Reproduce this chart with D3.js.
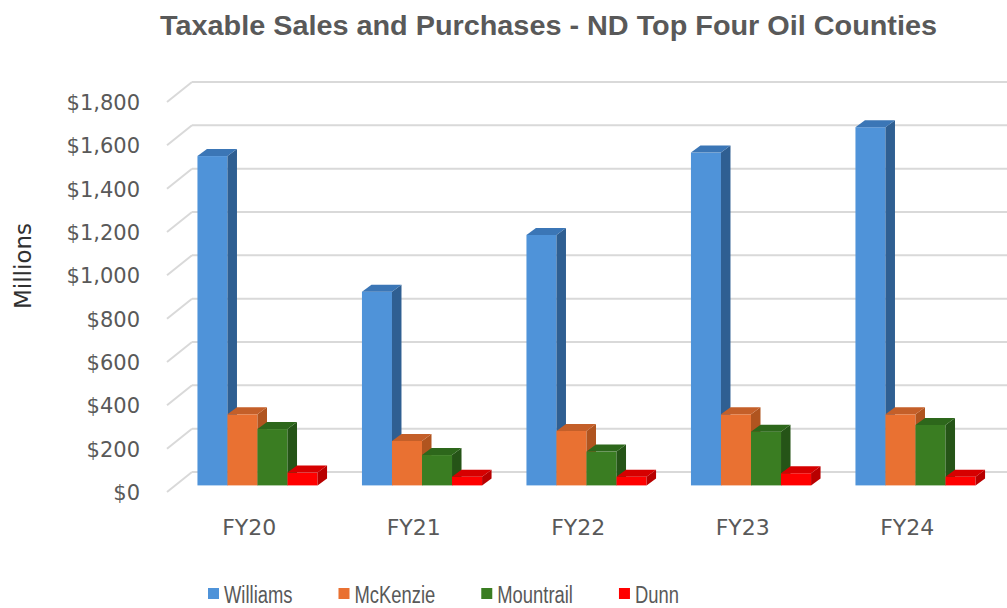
<!DOCTYPE html>
<html>
<head>
<meta charset="utf-8">
<script src="https://cdn.jsdelivr.net/npm/d3@7"></script>
<style>
  html, body { margin: 0; padding: 0; background: #fff; }
  svg { display: block; }
</style>
</head>
<body>
<div id="chart"></div>
<script>
// chart data (millions of dollars)
const years = ['FY20', 'FY21', 'FY22', 'FY23', 'FY24'];
const counties = ['Williams', 'McKenzie', 'Mountrail', 'Dunn'];
const williams = [1520, 894, 1156, 1536, 1653];
const mckenzie = [328, 205, 251, 328, 328];
const mountrail = [260, 140, 156, 248, 279];
const dunn = [59, 40, 40, 56, 40];
const yTicks = [0, 200, 400, 600, 800, 1000, 1200, 1400, 1600, 1800];

const seriesValues = [williams, mckenzie, mountrail, dunn];

const width = 1007;
const height = 608;

// face / side / top colours per county
const palette = {
    Williams: { front: '#4f93d9', side: '#2f5f92', top: '#3b76b6' },
    McKenzie: { front: '#e97132', side: '#b0541f', top: '#c45f29' },
    Mountrail: { front: '#3a7d22', side: '#255417', top: '#2d671b' },
    Dunn: { front: '#ff0000', side: '#b80000', top: '#d60000' }
};

// oblique 3D set-up: the floor runs back by (depthX, depthY)
const depthX = 25;
const depthY = -20;
const barFront = 0.33;       // where the bar front faces sit in the depth
const barDx = 9.5;           // bar depth
const barDy = -7;

const svg = d3.select('#chart').append('svg')
    .attr('width', width)
    .attr('height', height)
    .attr('viewBox', '0 0 ' + width + ' ' + height);

// front-plane scales
const x = d3.scaleBand()
    .domain(years)
    .range([167, 167 + 164.5 * years.length])
    .paddingInner(0.27)
    .paddingOuter(0.135);

const xSeries = d3.scaleBand()
    .domain(counties)
    .range([0, x.bandwidth()]);

const y = d3.scaleLinear()
    .domain([0, 1800])
    .range([492, 102]);

const fmt = d3.format('$,');

// squeeze a text element horizontally, the reference uses a narrow face
function narrow(sel, factor) {
    const w = sel.node().getComputedTextLength();
    sel.attr('textLength', w * factor).attr('lengthAdjust', 'spacingAndGlyphs');
    return w * factor;
}

// gridlines: diagonal on the side wall + horizontal on the back wall
const grid = svg.append('g').attr('class', 'grid');
grid.selectAll('.grid__diag')
    .data(yTicks)
    .enter()
    .append('line')
    .attr('class', 'grid__diag')
    .attr('x1', 167)
    .attr('y1', d => y(d))
    .attr('x2', 167 + depthX)
    .attr('y2', d => y(d) + depthY)
    .attr('stroke', '#d9d9d9')
    .attr('stroke-width', 2);
grid.selectAll('.grid__back')
    .data(yTicks)
    .enter()
    .append('line')
    .attr('class', 'grid__back')
    .attr('x1', 167 + depthX)
    .attr('y1', d => y(d) + depthY)
    .attr('x2', width)
    .attr('y2', d => y(d) + depthY)
    .attr('stroke', '#d9d9d9')
    .attr('stroke-width', 2);

// y labels
svg.append('g')
    .selectAll('text')
    .data(yTicks)
    .enter()
    .append('text')
    .attr('x', 140)
    .attr('y', d => y(d) + 1)
    .attr('text-anchor', 'end')
    .attr('dominant-baseline', 'central')
    .attr('font-family', '"DejaVu Sans", sans-serif')
    .attr('font-size', 21)
    .attr('fill', '#595959')
    .text(d => fmt(d));

// bars
const offX = depthX * barFront;
const offY = depthY * barFront;
const bars = svg.append('g').attr('class', 'bars');
years.forEach((year, i) => {
    counties.forEach((county, j) => {
        const v = seriesValues[j][i];
        const x0 = x(year) + xSeries(county) + offX;
        const x1 = x0 + xSeries.bandwidth();
        const yb = y(0) + offY;
        const yt = y(v) + offY;
        const c = palette[county];
        const g = bars.append('g').attr('class', 'bar');
        g.append('rect')
            .attr('x', x0)
            .attr('y', yt)
            .attr('width', x1 - x0)
            .attr('height', yb - yt)
            .attr('fill', c.front);
        g.append('path')
            .attr('d', d3.line()([[x1, yt], [x1 + barDx, yt + barDy], [x1 + barDx, yb + barDy], [x1, yb]]) + 'Z')
            .attr('fill', c.side);
        g.append('path')
            .attr('d', d3.line()([[x0, yt], [x0 + barDx, yt + barDy], [x1 + barDx, yt + barDy], [x1, yt]]) + 'Z')
            .attr('fill', c.top);
    });
});

// category labels
svg.append('g')
    .selectAll('text')
    .data(years)
    .enter()
    .append('text')
    .attr('x', d => x(d) + x.bandwidth() / 2)
    .attr('y', 535)
    .attr('text-anchor', 'middle')
    .attr('font-family', '"DejaVu Sans", sans-serif')
    .attr('font-size', 22)
    .attr('fill', '#595959')
    .text(d => d);

// axis title
svg.append('text')
    .attr('transform', 'translate(31,266) rotate(-90)')
    .attr('text-anchor', 'middle')
    .attr('font-family', '"DejaVu Sans", sans-serif')
    .attr('font-size', 23)
    .attr('fill', '#303030')
    .text('Millions');

// chart title, squeezed to the reference's width
const title = svg.append('text')
    .attr('x', 160)
    .attr('y', 35)
    .attr('font-family', '"Liberation Sans", Arial, sans-serif')
    .attr('font-weight', 'bold')
    .attr('font-size', 28)
    .attr('fill', '#595959')
    .text('Taxable Sales and Purchases - ND Top Four Oil Counties');
title.attr('textLength', 777).attr('lengthAdjust', 'spacingAndGlyphs');

// legend
const legend = svg.append('g').attr('class', 'legend');
let lx = 208;
counties.forEach(county => {
    legend.append('rect')
        .attr('x', lx)
        .attr('y', 588)
        .attr('width', 11)
        .attr('height', 11)
        .attr('fill', palette[county].front);
    const t = legend.append('text')
        .attr('x', lx + 16)
        .attr('y', 603)
        .attr('font-family', '"Liberation Sans", Arial, sans-serif')
        .attr('font-size', 23)
        .attr('fill', '#595959')
        .text(county);
    lx += 16 + narrow(t, 0.8) + 46;
});
</script>
</body>
</html>
